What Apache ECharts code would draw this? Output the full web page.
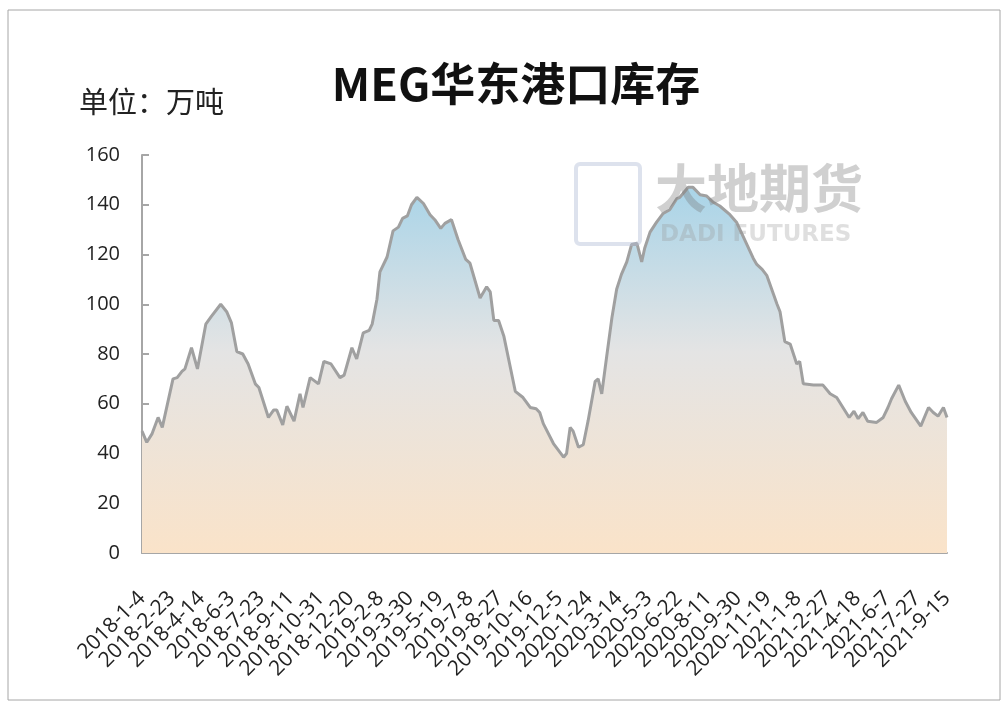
<!DOCTYPE html>
<html>
<head>
<meta charset="utf-8">
<title>MEG华东港口库存</title>
<script src="https://cdn.jsdelivr.net/npm/echarts@6/dist/echarts.min.js"></script>
<style>
  html, body { margin: 0; padding: 0; background: #fff; }
  #chart { width: 1006px; height: 711px; }
</style>
</head>
<body>
<div id="chart"></div>
<script>
const dates = [
  "2018-01-04", "2018-01-12", "2018-01-21", "2018-01-31", "2018-02-07", "2018-02-25", "2018-03-04", "2018-03-12",
  "2018-03-17", "2018-03-28", "2018-04-07", "2018-04-21", "2018-04-30", "2018-05-16", "2018-05-26", "2018-06-03",
  "2018-06-12", "2018-06-22", "2018-07-01", "2018-07-13", "2018-07-19", "2018-08-04", "2018-08-13", "2018-08-18",
  "2018-08-28", "2018-09-04", "2018-09-16", "2018-09-26", "2018-10-01", "2018-10-13", "2018-10-27", "2018-11-05",
  "2018-11-17", "2018-12-02", "2018-12-09", "2018-12-22", "2018-12-30", "2019-01-10", "2019-01-20", "2019-01-25",
  "2019-02-02", "2019-02-07", "2019-02-19", "2019-03-01", "2019-03-10", "2019-03-17", "2019-03-25", "2019-04-01",
  "2019-04-10", "2019-04-21", "2019-05-02", "2019-05-10", "2019-05-20", "2019-05-27", "2019-06-07", "2019-06-18",
  "2019-07-01", "2019-07-08", "2019-07-25", "2019-08-05", "2019-08-11", "2019-08-17", "2019-08-25", "2019-09-03",
  "2019-09-22", "2019-10-05", "2019-10-17", "2019-10-27", "2019-11-02", "2019-11-08", "2019-11-25", "2019-12-12",
  "2019-12-17", "2019-12-23", "2019-12-28", "2020-01-06", "2020-01-14", "2020-01-22", "2020-02-03", "2020-02-08",
  "2020-02-14", "2020-02-22", "2020-03-02", "2020-03-10", "2020-03-18", "2020-03-27", "2020-04-04", "2020-04-13",
  "2020-04-21", "2020-04-26", "2020-05-05", "2020-05-16", "2020-05-27", "2020-06-07", "2020-06-19", "2020-06-24",
  "2020-07-08", "2020-07-16", "2020-07-28", "2020-08-08", "2020-08-19", "2020-08-30", "2020-09-16", "2020-09-27",
  "2020-10-25", "2020-10-31", "2020-11-09", "2020-11-17", "2020-12-04", "2020-12-09", "2020-12-17", "2020-12-26",
  "2021-01-06", "2021-01-11", "2021-01-17", "2021-02-03", "2021-02-19", "2021-03-03", "2021-03-14", "2021-04-04",
  "2021-04-12", "2021-04-19", "2021-04-27", "2021-05-05", "2021-05-20", "2021-05-31", "2021-06-08", "2021-06-14",
  "2021-06-26", "2021-07-07", "2021-07-17", "2021-08-02", "2021-08-15", "2021-08-23", "2021-08-31", "2021-09-09",
  "2021-09-15"
];
const stock = [
  49, 44.5, 48, 54.5, 50.5, 70, 70.5, 73,
  74, 82.5, 74, 92, 95, 100, 97, 92.5,
  81, 80, 76, 68, 66.5, 54.5, 57.5, 57.5,
  51.5, 59, 53, 64, 58.5, 70.5, 68, 77,
  76, 70.5, 71.5, 82.5, 78, 88.5, 89.5, 92,
  102, 113, 119, 129.5, 131, 134.5, 135.5, 140,
  143, 140.5, 136, 134, 130.5, 132.5, 134, 126,
  118, 116.5, 102.5, 107, 105, 93.5, 93.5, 87,
  65, 62.5, 58.5, 58, 56.5, 52, 44, 38.5,
  40, 50.5, 49, 42.5, 43.5, 53, 69, 70,
  64, 78.5, 94.5, 106, 112, 117, 124, 124.5,
  117, 122.5, 129, 133, 136.5, 138, 142.5, 143,
  147, 147, 144, 143.5, 141, 139.5, 136, 133,
  118.5, 116, 114, 111.5, 100, 97, 85, 84,
  76, 77, 68, 67.5, 67.5, 64, 62.5, 54.5,
  57, 54, 56.5, 53, 52.5, 54.5, 58.5, 62,
  67.5, 61, 56.5, 51, 58.5, 56.5, 55, 58.5,
  54.5
];

const startDate = "2018-01-04";
const endDate = "2021-09-15";
const labelStep = 50; // 横轴每50天一个标签
const yTicks = [0, 20, 40, 60, 80, 100, 120, 140, 160];

const DAY = 86400000;
function toDay(s) {
  const p = s.split("-").map(Number);
  return Math.round((Date.UTC(p[0], p[1] - 1, p[2]) - Date.UTC(2018, 0, 4)) / DAY);
}
function dayLabel(d) {
  const t = new Date(Date.UTC(2018, 0, 4) + d * DAY);
  return t.getUTCFullYear() + "-" + (t.getUTCMonth() + 1) + "-" + t.getUTCDate();
}

const seriesData = dates.map((d, i) => [toDay(d), stock[i]]);

const myChart = echarts.init(document.getElementById("chart"));
myChart.setOption({
  backgroundColor: "#fff",
  animation: false,
  title: {
    text: "MEG华东港口库存",
    left: 511,
    top: 56,
    textAlign: "center",
    textStyle: {
      fontFamily: "Noto Sans CJK SC",
      fontSize: 45,
      fontWeight: "bold",
      color: "#111"
    }
  },
  graphic: [
    {
      type: "rect",
      shape: { x: 8, y: 10, width: 992, height: 690 },
      style: { fill: "none", stroke: "#a6a6a6", lineWidth: 1 },
      silent: true
    },
    {
      type: "text",
      left: 79,
      top: 87,
      style: {
        text: "单位：万吨",
        fontFamily: "Noto Sans CJK SC",
        fontSize: 29,
        fill: "#222"
      }
    },
    {
      type: "rect",
      shape: { x: 576, y: 164, width: 64, height: 80, r: 4 },
      style: { fill: "none", stroke: "rgba(180,190,215,0.45)", lineWidth: 4 },
      z: 10,
      silent: true
    },
    {
      type: "text",
      left: 655,
      top: 162,
      z: 10,
      style: {
        text: "大地期货",
        fontFamily: "Noto Sans CJK SC",
        fontSize: 52,
        fontWeight: "bold",
        fill: "rgba(120,120,120,0.35)"
      }
    },
    {
      type: "text",
      left: 660,
      top: 224,
      z: 10,
      style: {
        text: "DADI FUTURES",
        fontFamily: "DejaVu Sans",
        fontSize: 23,
        fontWeight: "bold",
        fill: "rgba(150,150,150,0.3)"
      }
    }
  ],
  grid: {
    left: 142,
    right: 59,
    top: 155,
    bottom: 158
  },
  xAxis: {
    type: "value",
    min: toDay(startDate),
    max: toDay(endDate),
    interval: labelStep,
    axisLine: { lineStyle: { color: "#a6a6a6", width: 2 } },
    axisTick: { show: false },
    splitLine: { show: false },
    axisLabel: {
      rotate: 45,
      margin: 42,
      fontFamily: "Open Sans",
      fontSize: 21,
      color: "#222",
      showMinLabel: true,
      showMaxLabel: true,
      hideOverlap: false,
      formatter: (v) => dayLabel(v)
    }
  },
  yAxis: {
    type: "value",
    min: yTicks[0],
    max: yTicks[yTicks.length - 1],
    interval: 20,
    axisLine: { show: true, lineStyle: { color: "#a6a6a6", width: 2 } },
    axisTick: { show: true, inside: true, length: 7, lineStyle: { color: "#a6a6a6", width: 2 } },
    splitLine: { show: false },
    axisLabel: {
      margin: 22,
      fontFamily: "Open Sans",
      fontSize: 20,
      color: "#222"
    }
  },
  series: [
    {
      type: "line",
      data: seriesData,
      symbol: "none",
      lineStyle: { color: "#a0a0a0", width: 3 },
      areaStyle: {
        opacity: 1,
        color: new echarts.graphic.LinearGradient(0, 0, 0, 1, [
          { offset: 0, color: "#a9d4e8" },
          { offset: 0.45, color: "#e4e4e4" },
          { offset: 1, color: "#fae3c9" }
        ])
      }
    }
  ]
});

window.addEventListener("resize", () => {
  myChart.resize();
});
</script>
</body>
</html>
